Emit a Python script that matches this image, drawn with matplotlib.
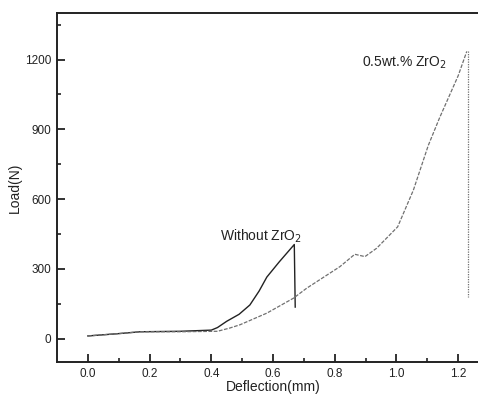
import matplotlib
matplotlib.use("Agg")
import matplotlib.pyplot as plt

plt.rcParams['font.family'] = ['Liberation Sans', 'DejaVu Sans']

# Without ZrO2 (solid)
x_plain = [0.0, 0.1, 0.17, 0.3, 0.40, 0.42, 0.45, 0.49, 0.525, 0.555, 0.58, 0.62, 0.669, 0.672]
y_plain = [12, 22, 30, 32, 37, 48, 75, 105, 145, 205, 265, 330, 405, 136]

# 0.5wt.% ZrO2 (dashed)
x_zr = [0.0, 0.1, 0.17, 0.3, 0.42, 0.46, 0.493, 0.58, 0.666, 0.709, 0.817, 0.865, 0.898, 0.936, 1.004, 1.055, 1.103, 1.14, 1.20, 1.228]
y_zr = [12, 22, 30, 30, 32, 46, 60, 110, 174, 217, 310, 363, 353, 389, 481, 639, 830, 950, 1130, 1235]

# Fracture drop of 0.5wt.% ZrO2 (dotted)
x_drop = [1.231, 1.231]
y_drop = [1235, 181]

xticks = [0.0, 0.2, 0.4, 0.6, 0.8, 1.0, 1.2]
yticks = [0, 300, 600, 900, 1200]

fig = plt.figure(figsize=(4.78, 3.97), dpi=100)
ax = fig.add_axes([57/478, 1-362/397, (489-57)/478, (362-13)/397])

ax.plot(x_plain, y_plain, color='#222222', lw=1.0)
ax.plot(x_zr, y_zr, color='#707070', lw=0.9, ls=(0, (3, 1.2)))
ax.plot(x_drop, y_drop, color='#707070', lw=0.9, ls=(0, (1, 1)))

ax.set_xlim(-0.1, 1.3)
ax.set_ylim(-100, 1400)
ax.set_xticks(xticks)
ax.set_xticklabels([f"{v:.1f}" for v in xticks])
ax.set_yticks(yticks)
ax.set_xticks([0.1, 0.3, 0.5, 0.7, 0.9, 1.1], minor=True)
ax.set_yticks([150, 450, 750, 1050, 1350], minor=True)
ax.tick_params(which='major', direction='in', length=6, width=1.3, labelsize=8.5, colors='#222222', pad=4)
ax.tick_params(which='minor', direction='in', length=3, width=1.2, colors='#222222')
for s in ax.spines.values():
    s.set_linewidth(1.4)
    s.set_color('#222222')
ax.spines['right'].set_visible(False)

ax.set_xlabel('Deflection(mm)', fontsize=10, labelpad=0, color='#222222')
ax.set_ylabel('Load(N)', fontsize=10, labelpad=2, color='#222222')

ax.text(0.428, 441, 'Without ZrO$_2$', fontsize=10, color='#222222', va='center', ha='left')
ax.text(0.887, 1188, '0.5wt.% ZrO$_2$', fontsize=10, color='#222222', va='center', ha='left')

fig.savefig('out.png', dpi=100)
